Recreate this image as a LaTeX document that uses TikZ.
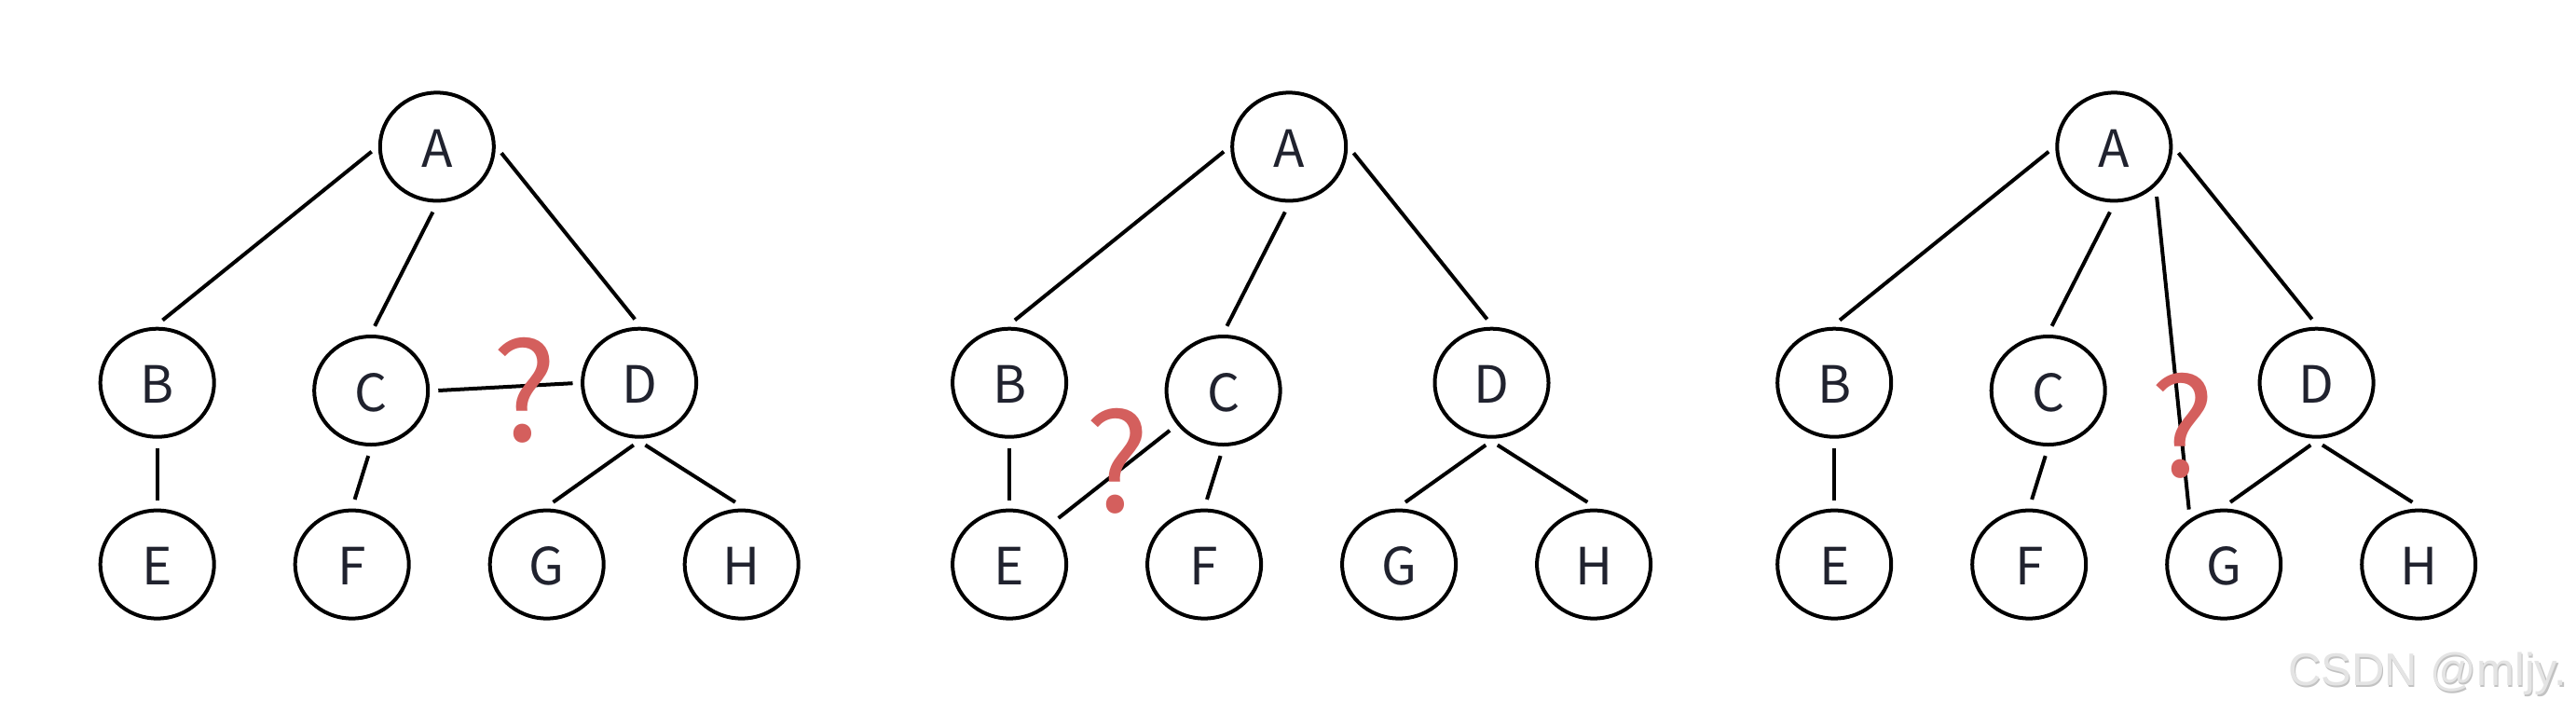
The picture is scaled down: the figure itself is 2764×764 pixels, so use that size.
\documentclass[tikz,border=0pt]{standalone}
\usepackage{fontspec}
\newfontfamily\notosans{Noto Sans CJK SC}
\newfontfamily\wmfont{Liberation Sans}
\usetikzlibrary{shapes.geometric,calc}
\definecolor{ink}{HTML}{20222E}
\definecolor{qred}{HTML}{D45F5D}
\definecolor{wm}{HTML}{E4E4E4}
\definecolor{wmshadow}{HTML}{C2C2C2}
\newcommand{\mytree}[2]{%
  \node[nd] (A#1) at (468.8+#2,157.4) {A};
  \node[nd] (B#1) at (168.7+#2,410.7) {B};
  \node[nd] (C#1) at (398.2+#2,419.0) {C};
  \node[nd] (D#1) at (686.1+#2,410.7) {D};
  \node[nd] (E#1) at (168.7+#2,605.6) {E};
  \node[nd] (F#1) at (377.7+#2,605.6) {F};
  \node[nd] (G#1) at (586.7+#2,605.6) {G};
  \node[nd] (H#1) at (795.7+#2,605.6) {H};
  \draw[edge] ($(A#1)+(-70.1,5.3)$) -- ($(B#1)+(5.8,-67.2)$);
  \draw[edge] ($(A#1)+(-4.4,70.1)$) -- ($(C#1)+(3.9,-69.2)$);
  \draw[edge] ($(A#1)+(69.2,6.8)$) -- ($(D#1)+(-4.9,-68.2)$);
  \draw[edge] ($(B#1)+(0,70.2)$) -- ($(E#1)+(0,-69.0)$);
  \draw[edge] ($(C#1)+(-3,70.1)$) -- ($(F#1)+(2.9,-69.7)$);
  \draw[edge] ($(D#1)+(-6.3,66.8)$) -- ($(G#1)+(6.8,-66.8)$);
  \draw[edge] ($(D#1)+(6.3,66.8)$) -- ($(H#1)+(-6.8,-66.8)$);
}
\begin{document}
\begin{tikzpicture}[x=1pt,y=-1pt,
  nd/.style={ellipse, draw=black, line width=4pt, minimum width=122pt,
    minimum height=116pt, inner sep=0pt, text=ink,
    font=\notosans\fontsize{55}{60}\selectfont, text height=44pt, text depth=0pt},
  edge/.style={draw=black, line width=4pt},
  qmark/.style={text=qred, font=\notosans\fontsize{146}{150}\selectfont, inner sep=0pt},
  wmtext/.style={anchor=base west, inner sep=0pt, font=\wmfont\fontsize{49}{52}\selectfont},
]
\useasboundingbox (0,0) rectangle (2764,764);
\fill[white] (0,0) rectangle (2764,764);
% tree 1
\mytree{1}{0}
\draw[edge] ($(C1)+(72.1,0)$) -- ($(D1)+(-71.6,0.5)$);
\node[qmark] (q1) at (563.3,418.5) {?};
% tree 2
\mytree{2}{914.4}
\draw[edge] ($(C2)+(-57.5,42.9)$) -- ($(E2)+(52.6,-49.7)$);
\node[qmark] (q2) at (1198.8,495.2) {?};
% tree 3
\mytree{3}{1799.5}
\draw[edge] ($(A3)+(45.8,53.6)$) -- ($(G3)+(-37.5,-59)$);
\node[qmark] (q3) at (2341.7,456.7) {?};
% watermark
\node[wmtext, text=wmshadow] (wm0) at (2456.2,737.0) {CSDN @mljy.};
\node[wmtext, text=wm] (wm1) at (2455,735.7) {CSDN @mljy.};
\end{tikzpicture}
\end{document}
